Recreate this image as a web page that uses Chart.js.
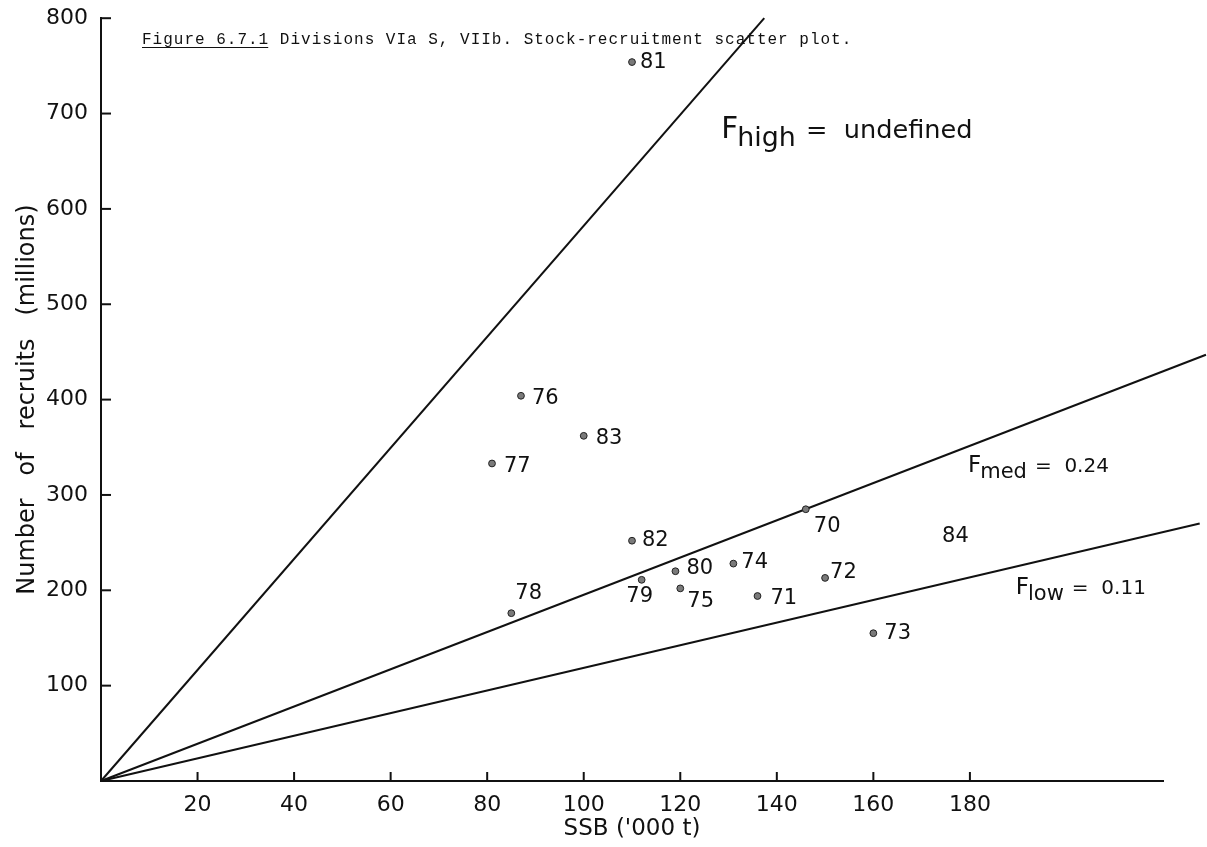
<!DOCTYPE html>
<html>
<head>
<meta charset="utf-8">
<script src="https://cdn.jsdelivr.net/npm/chart.js@4.4.1/dist/chart.umd.min.js"></script>
<style>
  html, body { margin: 0; padding: 0; background: #fff; }
  .chart-wrapper { position: relative; width: 1207px; height: 847px; }
</style>
</head>
<body>
<div class="chart-wrapper"><canvas class="js-stock-chart"></canvas></div>
<script>
// year classes, spawning stock biomass ('000 t) and recruits (millions)
const yearLabels = ['70', '71', '72', '73', '74', '75', '76', '77', '78', '79', '80', '81', '82', '83'];
const ssbValues = [146, 136, 150, 160, 131, 120, 87, 81, 85, 112, 119, 110, 110, 100];
const recruitValues = [285, 194, 213, 155, 228, 202, 404, 333, 176, 211, 220, 754, 252, 362];

// 1984 has no plotted point, only its label
const unplottedYear = '84';
const unplottedSsb = 177;
const unplottedRecruits = 256;

// replacement lines through the origin
const refLineNames = ['high', 'med', 'low'];
const refLineValues = ['undefined', '0.24', '0.11'];
const refLineSsbEnd = [137.4, 228.9, 227.6];
const refLineRecruitEnd = [800, 447, 270];

const xTickValues = [20, 40, 60, 80, 100, 120, 140, 160, 180];

const INK = '#111';
const FONT = '"DejaVu Sans", sans-serif';

// label placement in pixels relative to each dot
const labelOffsets = {
  70: [8, 17, 'left'], 71: [13, 3, 'left'], 72: [5, -5, 'left'], 73: [11, 0, 'left'],
  74: [8, -1, 'left'], 75: [7, 13, 'left'], 76: [11, 3, 'left'], 77: [12, 3, 'left'],
  78: [4, -20, 'left'], 79: [-2, 17, 'center'], 80: [11, -3, 'left'], 81: [8, 0, 'left'],
  82: [10, 0, 'left'], 83: [12, 3, 'left'],
};
// anchor (data units) of the F labels: left edge, baseline, font scale
const refLabelAnchors = [[128.5, 674, 1.28], [179.6, 324, 1], [189.5, 196, 1]];

const drawFLabel = (ctx, x, y, sub, value, k) => {
  ctx.textAlign = 'left';
  ctx.textBaseline = 'alphabetic';
  ctx.font = `${23 * k}px ${FONT}`;
  ctx.fillText('F', x, y);
  let cx = x + ctx.measureText('F').width - 1;
  ctx.font = `${21 * k}px ${FONT}`;
  ctx.fillText(sub, cx, y + 6 * k);
  cx += ctx.measureText(sub).width + 8 * k;
  ctx.font = `${20 * k}px ${FONT}`;
  ctx.fillText(`=  ${value}`, cx, y);
};

const annotationPlugin = {
  id: 'stockAnnotations',
  afterDraw(chart) {
    const { ctx, scales: { x, y } } = chart;
    const x0 = x.getPixelForValue(0);
    const y0 = y.getPixelForValue(0);
    ctx.save();
    ctx.strokeStyle = INK;
    ctx.fillStyle = INK;
    ctx.lineWidth = 2;

    // tick marks point into the plot
    xTickValues.forEach((v) => {
      const px = x.getPixelForValue(v);
      ctx.beginPath();
      ctx.moveTo(px, y0);
      ctx.lineTo(px, y0 - 9);
      ctx.stroke();
    });
    for (let v = 100; v <= 800; v += 100) {
      const py = y.getPixelForValue(v);
      ctx.beginPath();
      ctx.moveTo(x0, py);
      ctx.lineTo(x0 + 10, py);
      ctx.stroke();
    }

    // caption
    ctx.font = '16px "Liberation Mono", monospace';
    ctx.letterSpacing = '1px';
    ctx.textAlign = 'left';
    ctx.textBaseline = 'alphabetic';
    const figText = 'Figure 6.7.1';
    ctx.fillText(`${figText} Divisions VIa S, VIIb. Stock-recruitment scatter plot.`, 142, 44);
    const figWidth = ctx.measureText(figText).width;
    ctx.lineWidth = 1;
    ctx.beginPath();
    ctx.moveTo(142, 47.5);
    ctx.lineTo(142 + figWidth - 1, 47.5);
    ctx.stroke();
    ctx.letterSpacing = '0px';

    // year labels
    ctx.font = `21px ${FONT}`;
    ctx.textBaseline = 'middle';
    yearLabels.forEach((year, i) => {
      const [dx, dy, align] = labelOffsets[year];
      ctx.textAlign = align;
      ctx.fillText(year, x.getPixelForValue(ssbValues[i]) + dx, y.getPixelForValue(recruitValues[i]) + dy);
    });
    ctx.textAlign = 'center';
    ctx.fillText(unplottedYear, x.getPixelForValue(unplottedSsb), y.getPixelForValue(unplottedRecruits));

    refLineNames.forEach((name, i) => {
      const [ax, ay, k] = refLabelAnchors[i];
      drawFLabel(ctx, x.getPixelForValue(ax), y.getPixelForValue(ay), name, refLineValues[i], k);
    });
    ctx.restore();
  },
};

const refLineDatasets = refLineNames.map((name, i) => ({
  type: 'line',
  label: `F${name}`,
  data: [{ x: 0, y: 0 }, { x: refLineSsbEnd[i], y: refLineRecruitEnd[i] }],
  borderColor: INK,
  borderWidth: 2,
  pointRadius: 0,
  fill: false,
  clip: false,
}));

const chart = new Chart(document.querySelector('.js-stock-chart'), {
  type: 'scatter',
  data: {
    datasets: [
      {
        label: 'Year classes',
        data: ssbValues.map((s, i) => ({ x: s, y: recruitValues[i] })),
        pointRadius: 3.4,
        backgroundColor: '#7a7a7a',
        borderColor: '#222',
        borderWidth: 1,
      },
      ...refLineDatasets,
    ],
  },
  plugins: [annotationPlugin],
  options: {
    responsive: true,
    maintainAspectRatio: false,
    animation: false,
    layout: { padding: { top: 13, right: 44, left: 0, bottom: 0 } },
    plugins: {
      legend: { display: false },
      tooltip: { enabled: false },
    },
    scales: {
      x: {
        type: 'linear',
        min: 0,
        max: 220,
        grid: { display: false },
        border: { display: true, color: INK, width: 2 },
        ticks: {
          stepSize: 20,
          padding: 3,
          color: INK,
          font: { family: FONT, size: 22 },
          maxRotation: 0,
          callback: (v) => (v > 0 && v <= 180 ? String(v) : ''),
        },
        title: {
          display: true,
          text: "SSB ('000 t)",
          color: INK,
          font: { family: FONT, size: 23 },
          padding: { top: 0, bottom: 4 },
        },
        afterFit: (scale) => { scale.height = 66; },
      },
      y: {
        type: 'linear',
        min: 0,
        max: 800,
        grid: { display: false },
        border: { display: true, color: INK, width: 2 },
        ticks: {
          stepSize: 100,
          padding: 5,
          color: INK,
          font: { family: FONT, size: 22 },
          callback: (v) => (v > 0 ? String(v) : ''),
        },
        title: {
          display: true,
          text: 'Number   of   recruits   (millions)',
          color: INK,
          font: { family: FONT, size: 24 },
          padding: { top: 13, bottom: 0 },
        },
        afterFit: (scale) => { scale.width = 101; },
      },
    },
  },
});
</script>
</body>
</html>
